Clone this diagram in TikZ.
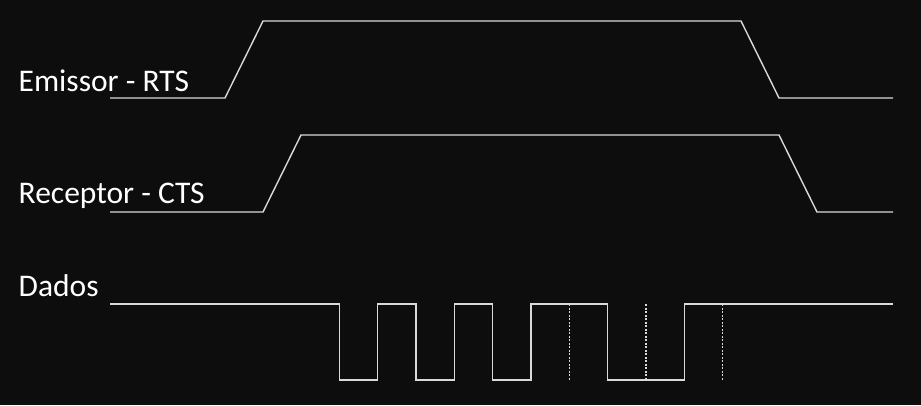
\documentclass[tikz,border=0pt]{standalone}
\usepackage{fontspec}
\setmainfont{Carlito}
\usepackage{xcolor}
\usepackage{tikz}

\definecolor{bgdark}{HTML}{0D0D0D}
\definecolor{wire}{HTML}{D9D9D9}

\begin{document}
\begin{tikzpicture}[
    x=1pt, y=-1pt,
    label/.style={anchor=base west, inner sep=0pt, text=white, font=\fontsize{31.5}{36}\selectfont},
    signal/.style={draw=wire, line width=1.4pt, line join=miter},
    tick/.style={draw=wire, line width=1.2pt, dash pattern=on 2pt off 1.5pt}
]
    % Background
    \fill[bgdark] (0,0) rectangle (921,405);
    \useasboundingbox (0,0) rectangle (921,405);

    % Nodes
    \node[label] (rts) at (18.5,91) {Emissor - RTS};
    \node[label] (cts) at (18.5,203) {Receptor - CTS};
    \node[label] (dados) at (18.5,296) {Dados};

    % Signals
    \draw[signal] (110,98) -- (225,98) -- (263,21) -- (741,21) -- (779,98) -- (893,98);
    \draw[signal] (110,212) -- (263,212) -- (301,135) -- (779,135) -- (817,212) -- (893,212);
    \draw[signal] (110,304) -- (339.3,304) -- (339.3,380) -- (377.7,380) -- (377.7,304)
        -- (416,304) -- (416,380) -- (454.3,380) -- (454.3,304)
        -- (492.7,304) -- (492.7,380) -- (531,380) -- (531,304)
        -- (607.7,304) -- (607.7,380) -- (684.3,380) -- (684.3,304) -- (893,304);

    % Bit marks
    \foreach \x in {569.3,646,722.7}
        \draw[tick] (\x,304) -- (\x,380);
\end{tikzpicture}
\end{document}
